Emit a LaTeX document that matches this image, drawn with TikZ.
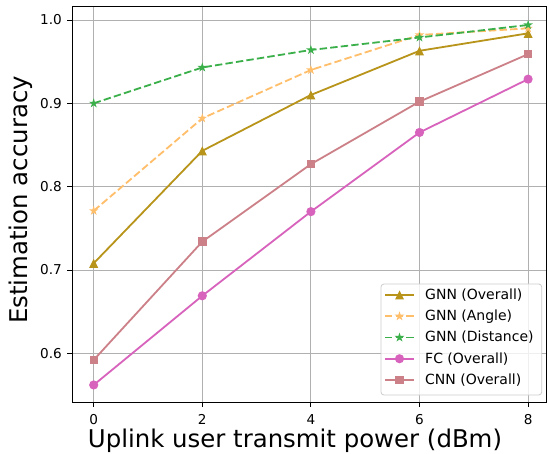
\documentclass[tikz,border=0pt]{standalone}
\usepackage{fontspec}
\setmainfont{DejaVu Sans}
\usetikzlibrary{shapes.geometric}
\definecolor{cO}{HTML}{B8941A}
\definecolor{cA}{HTML}{FFBE6A}
\definecolor{cD}{HTML}{3BB04A}
\definecolor{cF}{HTML}{D863BD}
\definecolor{cC}{HTML}{CC8088}
\definecolor{gridc}{HTML}{B0B0B0}
\definecolor{legc}{HTML}{CCCCCC}
\tikzset{
  trim/.pic={\fill (0pt,4.5pt) -- (-4.5pt,-4.5pt) -- (4.5pt,-4.5pt) -- cycle;},
  starm/.pic={\node[star, star points=5, star point ratio=2.618, minimum size=10pt, inner sep=0pt, fill] {};},
  circm/.pic={\fill (0,0) circle (4.6pt);},
  sqm/.pic={\fill (-4.2pt,-4.2pt) rectangle (4.2pt,4.2pt);},
  curve/.style={line width=1.8pt, line join=round},
  dashcurve/.style={line width=1.8pt, dash pattern=on 7.4pt off 3.2pt},
  gridln/.style={draw=gridc, line width=0.9pt},
  ticklab/.style={font=\fontsize{13.6}{16}\selectfont, inner sep=0pt},
  legtext/.style={font=\fontsize{14}{16}\selectfont, inner sep=0pt, anchor=west},
  axlabel/.style={font=\fontsize{24.4}{29}\selectfont, inner sep=0pt, anchor=base},
}
\begin{document}
\begin{tikzpicture}[x=1pt,y=1pt]
\useasboundingbox (0,0) rectangle (549,453);
\fill[white] (0,0) rectangle (549,453);
\begin{scope}[shift={(93.7pt,99.7pt)}, x=54.3pt, y=8.333pt]
  % grid
  \foreach \i in {0,2,4,6,8} \draw[gridln] (\i,-5.84) -- (\i,41.56);
  \foreach \v in {0,10,20,30,40} \draw[gridln] (-0.4,\v) -- (8.33,\v);
  % ticks and tick labels
  \foreach \i in {0,2,4,6,8} {
    \draw[line width=0.9pt] (\i,-5.84) -- ++(0pt,-4.6pt);
    \node[ticklab, anchor=north, yshift=-12pt] (xt\i) at (\i,-5.84) {\i};
  }
  \foreach \v/\t in {0/0.6,10/0.7,20/0.8,30/0.9,40/1.0} {
    \draw[line width=0.9pt] (-0.4,\v) -- ++(-4.6pt,0pt);
    \node[ticklab, anchor=east, xshift=-10pt] (yt\v) at (-0.4,\v) {\t};
  }
  % data coordinates
  \foreach \x/\v [count=\k from 0] in {0/10.8,2/24.3,4/31.0,6/36.3,8/38.4} \coordinate (o\k) at (\x,\v);
  \foreach \x/\v [count=\k from 0] in {0/17.1,2/28.2,4/34.0,6/38.2,8/39.0} \coordinate (a\k) at (\x,\v);
  \foreach \x/\v [count=\k from 0] in {0/30.0,2/34.3,4/36.4,6/37.9,8/39.4} \coordinate (d\k) at (\x,\v);
  \foreach \x/\v [count=\k from 0] in {0/-3.8,2/6.9,4/17.0,6/26.5,8/32.9} \coordinate (f\k) at (\x,\v);
  \foreach \x/\v [count=\k from 0] in {0/-0.8,2/13.4,4/22.7,6/30.2,8/35.9} \coordinate (c\k) at (\x,\v);
  % GNN overall
  \draw[curve, cO] (o0) -- (o1) -- (o2) -- (o3) -- (o4);
  \foreach \k in {0,...,4} \pic[cO] at (o\k) {trim};
  % GNN angle
  \draw[dashcurve, cA] (a0) -- (a1) -- (a2) -- (a3) -- (a4);
  \foreach \k in {0,...,4} \pic[cA] at (a\k) {starm};
  % GNN distance
  \draw[dashcurve, cD] (d0) -- (d1) -- (d2) -- (d3) -- (d4);
  \foreach \k in {0,...,4} \pic[cD] at (d\k) {starm};
  % FC
  \draw[curve, cF] (f0) -- (f1) -- (f2) -- (f3) -- (f4);
  \foreach \k in {0,...,4} \pic[cF] at (f\k) {circm};
  % CNN
  \draw[curve, cC] (c0) -- (c1) -- (c2) -- (c3) -- (c4);
  \foreach \k in {0,...,4} \pic[cC] at (c\k) {sqm};
\end{scope}
% frame
\draw[line width=1pt] (72,51) rectangle (546,446);
% legend
\draw[rounded corners=3pt, draw=legc, fill=white, fill opacity=0.8, line width=0.8pt] (381,58) rectangle (541.7,169);
\coordinate (l1s) at (385,158); \coordinate (l1e) at (414,158);
\draw[curve, cO] (l1s) -- (l1e); \pic[cO] at (399.5,158) {trim};
\node[legtext] (l1t) at (425,158) {GNN (Overall)};
\coordinate (l2s) at (385,136.75); \coordinate (l2e) at (414,136.75);
\draw[dashcurve, cA] (l2s) -- (l2e); \pic[cA] at (399.5,136.75) {starm};
\node[legtext] (l2t) at (425,136.75) {GNN (Angle)};
\coordinate (l3s) at (385,115.5); \coordinate (l3e) at (414,115.5);
\draw[dashcurve, cD] (l3s) -- (l3e); \pic[cD] at (399.5,115.5) {starm};
\node[legtext] (l3t) at (425,115.5) {GNN (Distance)};
\coordinate (l4s) at (385,94.25); \coordinate (l4e) at (414,94.25);
\draw[curve, cF] (l4s) -- (l4e); \pic[cF] at (399.5,94.25) {circm};
\node[legtext] (l4t) at (425,94.25) {FC (Overall)};
\coordinate (l5s) at (385,73); \coordinate (l5e) at (414,73);
\draw[curve, cC] (l5s) -- (l5e); \pic[cC] at (399.5,73) {sqm};
\node[legtext] (l5t) at (425,73) {CNN (Overall)};
% axis labels
\node[axlabel] (xl) at (295,5.5) {Uplink user transmit power (dBm)};
\node[axlabel, rotate=90] (yl) at (27,253) {Estimation accuracy};
\end{tikzpicture}
\end{document}
